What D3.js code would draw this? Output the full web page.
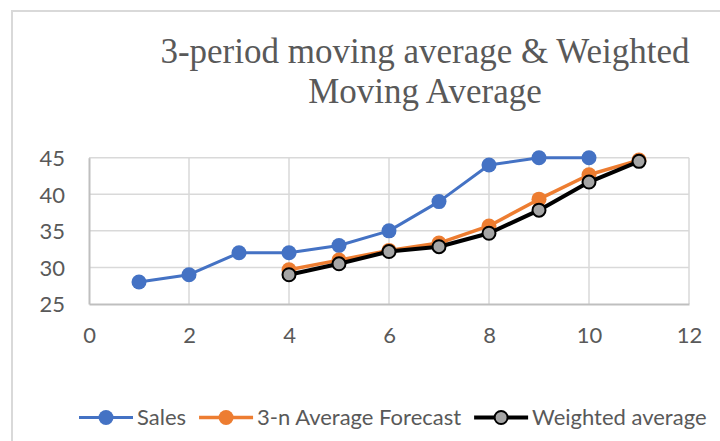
<!DOCTYPE html>
<html>
<head>
<meta charset="utf-8">
<script src="https://cdn.jsdelivr.net/npm/d3@7"></script>
<style>
  body { margin: 0; background: #fff; }
  svg { display: block; }
</style>
</head>
<body>
<div id="chart"></div>
<script>
// data
var periods   = [1, 2, 3, 4, 5, 6, 7, 8, 9, 10];
var sales     = [28, 29, 32, 32, 33, 35, 39, 44, 45, 45];
var fcPeriods = [4, 5, 6, 7, 8, 9, 10, 11];
var forecast3 = [29.67, 31, 32.33, 33.33, 35.67, 39.33, 42.67, 44.67];
var weighted  = [29, 30.5, 32.17, 32.83, 34.67, 37.83, 41.67, 44.5];
var xTicks = [0, 2, 4, 6, 8, 10, 12];
var yTicks = [25, 30, 35, 40, 45];
var seriesNames = ["Sales", "3-n Average Forecast", "Weighted average"];
var titleLines = ["3-period moving average & Weighted", "Moving Average"];

var width = 720, height = 441;
var textColor = "#595959";
var sansFont = "Lato, 'Open Sans', sans-serif";

var svg = d3.select("#chart").append("svg")
  .attr("width", width)
  .attr("height", height);

// chart border (runs off the right/bottom of the crop)
svg.append("rect")
  .attr("x", 12).attr("y", 11)
  .attr("width", 800).attr("height", 500)
  .attr("fill", "#fff")
  .attr("stroke", "#d9d9d9")
  .attr("stroke-width", 2);

var x = d3.scaleLinear().domain([0, 12]).range([89, 689]);
var y = d3.scaleLinear().domain([25, 45]).range([304, 157.7]);

// title
svg.append("g").selectAll("text")
  .data(titleLines)
  .enter().append("text")
  .attr("x", 425)
  .attr("y", function(d, i) { return 63 + i * 40; })
  .attr("text-anchor", "middle")
  .attr("font-family", "'Liberation Serif', 'DejaVu Serif', serif")
  .attr("font-size", 35)
  .attr("fill", textColor)
  .text(function(d) { return d; });

// gridlines
var grid = svg.append("g");
grid.selectAll("line.h")
  .data(yTicks.slice(1))
  .enter().append("line")
  .attr("class", "h")
  .attr("x1", x(0)).attr("x2", x(12))
  .attr("y1", function(d) { return y(d); })
  .attr("y2", function(d) { return y(d); })
  .attr("stroke", "#d9d9d9").attr("stroke-width", 1.5);
grid.selectAll("line.v")
  .data(xTicks.slice(1))
  .enter().append("line")
  .attr("class", "v")
  .attr("y1", y(25)).attr("y2", y(45))
  .attr("x1", function(d) { return x(d); })
  .attr("x2", function(d) { return x(d); })
  .attr("stroke", "#d9d9d9").attr("stroke-width", 1.5);

// axes
var xAxis = svg.append("g")
  .attr("transform", "translate(0," + y(25) + ")")
  .call(d3.axisBottom(x).tickValues(xTicks).tickSize(0).tickPadding(39));
var yAxis = svg.append("g")
  .attr("transform", "translate(" + x(0) + ",0)")
  .call(d3.axisLeft(y).tickValues(yTicks).tickSize(0).tickPadding(24));
[xAxis, yAxis].forEach(function(a) {
  a.select(".domain").attr("stroke", "#bfbfbf").attr("stroke-width", 2);
  a.selectAll("text")
    .attr("font-family", sansFont)
    .attr("font-size", 22)
    .attr("fill", textColor);
});
xAxis.selectAll("text").attr("dy", 0);
yAxis.selectAll("text").attr("dy", "0.36em");

var line = d3.line()
  .x(function(d) { return x(d[0]); })
  .y(function(d) { return y(d[1]); });

var series = [
  { name: seriesNames[0], data: d3.zip(periods, sales), color: "#4472C4", width: 3, fill: "#4472C4", stroke: "none" },
  { name: seriesNames[1], data: d3.zip(fcPeriods, forecast3), color: "#ED7D31", width: 3.5, fill: "#ED7D31", stroke: "none" },
  { name: seriesNames[2], data: d3.zip(fcPeriods, weighted), color: "#000000", width: 4, fill: "#A5A5A5", stroke: "#000" }
];

series.forEach(function(s) {
  var g = svg.append("g");
  g.append("path")
    .datum(s.data)
    .attr("d", line)
    .attr("fill", "none")
    .attr("stroke", s.color)
    .attr("stroke-width", s.width)
    .attr("stroke-linejoin", "round");
  g.selectAll("circle")
    .data(s.data)
    .enter().append("circle")
    .attr("cx", function(d) { return x(d[0]); })
    .attr("cy", function(d) { return y(d[1]); })
    .attr("r", s.stroke === "none" ? 7.5 : 6.5)
    .attr("fill", s.fill)
    .attr("stroke", s.stroke)
    .attr("stroke-width", 2);
});

// legend
var legend = svg.append("g").attr("transform", "translate(0,417.5)");
var lx = 79;
series.forEach(function(s) {
  var item = legend.append("g");
  item.append("line")
    .attr("x1", lx).attr("x2", lx + 54)
    .attr("stroke", s.color).attr("stroke-width", s.width);
  item.append("circle")
    .attr("cx", lx + 27).attr("r", s.stroke === "none" ? 7.5 : 6.5)
    .attr("fill", s.fill).attr("stroke", s.stroke).attr("stroke-width", 2);
  var t = item.append("text")
    .attr("x", lx + 58).attr("dy", "0.35em")
    .attr("font-family", sansFont)
    .attr("font-size", 22)
    .attr("fill", textColor)
    .text(s.name);
  lx += 58 + t.node().getComputedTextLength() + 13;
});
</script>
</body>
</html>
